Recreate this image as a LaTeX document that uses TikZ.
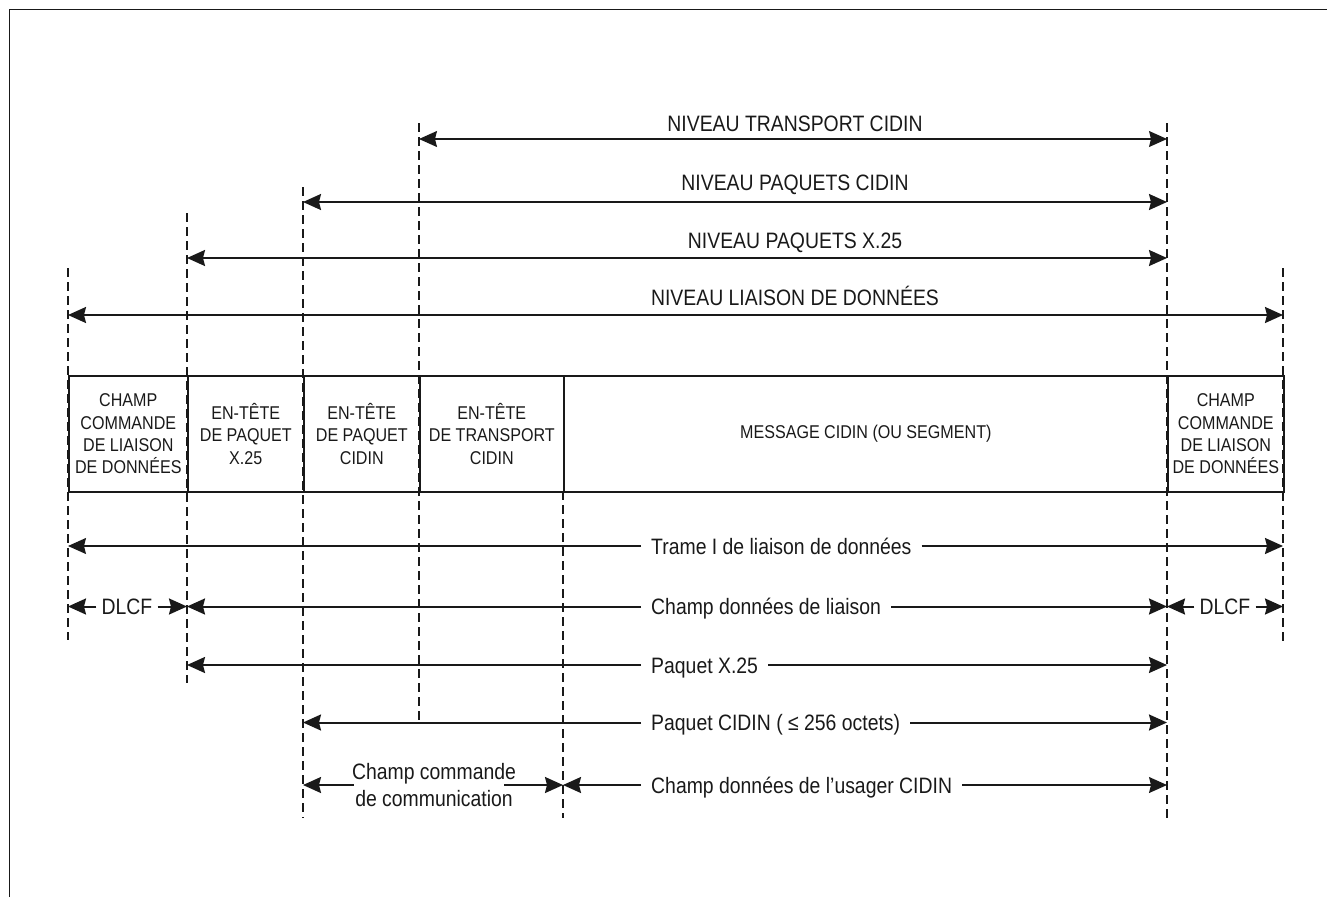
\documentclass[tikz,border=0pt]{standalone}
\usepackage{fontspec}
\setmainfont{Liberation Sans}[FakeStretch=0.87]
\usetikzlibrary{arrows.meta}
\definecolor{ink}{gray}{0.1}
\tikzset{
  Tri/.tip={Stealth[length=18pt,width=16pt,inset=2pt]},
  dashln/.style={line width=1.8pt,dash pattern=on 9pt off 5pt,color=ink},
  frameln/.style={line width=1.4pt,color=ink},
  cell/.style={draw,line width=1.6pt,color=ink,anchor=north west,inner sep=0pt,
    minimum height=116pt,align=center,font=\fontsize{18.5}{22.3}\selectfont},
  thk/.style={line width=2pt,color=ink},
  thn/.style={line width=1.2pt,color=ink},
  lbl/.style={font=\fontsize{22.3}{26.5}\selectfont,inner sep=0pt,color=ink},
  ilbl/.style={font=\fontsize{22.3}{26.5}\selectfont,inner ysep=0pt,inner xsep=10pt,color=ink,anchor=base west},
  dlbl/.style={font=\fontsize{22.3}{26.5}\selectfont,inner ysep=0pt,inner xsep=5pt,color=ink,anchor=base}
}
\begin{document}
\begin{tikzpicture}[x=1pt,y=-1pt]
\useasboundingbox (0,0) rectangle (1327,897);
% frame
\coordinate (f0) at (9.5,897);
\coordinate (f1) at (9.5,9.5);
\coordinate (f2) at (1327,9.5);
\draw[frameln] (f0) -- (f1) -- (f2);

% dashed verticals
\coordinate (d1t) at (68,268);   \coordinate (d1b) at (68,640);
\coordinate (d2t) at (187,213);  \coordinate (d2b) at (187,683);
\coordinate (d3t) at (303,187);  \coordinate (d3b) at (303,818);
\coordinate (d4t) at (419,123);  \coordinate (d4b) at (419,723);
\coordinate (d5t) at (563,491);  \coordinate (d5b) at (563,818);
\coordinate (d6t) at (1167,123); \coordinate (d6b) at (1167,818);
\coordinate (d7t) at (1283,268); \coordinate (d7b) at (1283,645);
\foreach \i in {1,...,7} {\draw[dashln] (d\i t) -- (d\i b);}

% cells
\node[cell,minimum width=119pt] (c1) at (68,375) {CHAMP\\COMMANDE\\DE LIAISON\\DE DONNÉES};
\node[cell,minimum width=116pt] (c2) at (187,375) {EN-TÊTE\\DE PAQUET\\X.25};
\node[cell,minimum width=116pt] (c3) at (303,375) {EN-TÊTE\\DE PAQUET\\CIDIN};
\node[cell,minimum width=144pt] (c4) at (419,375) {EN-TÊTE\\DE TRANSPORT\\CIDIN};
\node[cell,minimum width=604pt] (c5) at (563,375) {MESSAGE CIDIN (OU SEGMENT)};
\node[cell,minimum width=116pt] (c6) at (1167,375) {CHAMP\\COMMANDE\\DE LIAISON\\DE DONNÉES};

% top level arrows
\coordinate (a1l) at (419,139);  \coordinate (a1r) at (1167,139);
\coordinate (a2l) at (303,202);  \coordinate (a2r) at (1167,202);
\coordinate (a3l) at (187,258);  \coordinate (a3r) at (1167,258);
\coordinate (a4l) at (68,315);   \coordinate (a4r) at (1283,315);
\draw[thn,Tri-Tri] (a1l) -- (a1r);
\draw[thk,Tri-Tri] (a2l) -- (a2r);
\draw[thk,Tri-Tri] (a3l) -- (a3r);
\draw[thk,Tri-Tri] (a4l) -- (a4r);
\node[lbl,anchor=base] (t1) at (795,131.5) {NIVEAU TRANSPORT CIDIN};
\node[lbl,anchor=base] (t2) at (795,190.7) {NIVEAU PAQUETS CIDIN};
\node[lbl,anchor=base] (t3) at (795,248.3) {NIVEAU PAQUETS X.25};
\node[lbl,anchor=base] (t4) at (795,305) {NIVEAU LIAISON DE DONNÉES};

% lower arrows
\coordinate (b1l) at (68,546);   \coordinate (b1r) at (1283,546);
\node[ilbl] (l1) at (641,554) {Trame I de liaison de données};
\draw[thn,-Tri] (l1.west |- b1l) -- (b1l);
\draw[thk,-Tri] (l1.east |- b1r) -- (b1r);

\coordinate (b2a) at (68,606.5);  \coordinate (b2b) at (187,606.5);
\coordinate (b2c) at (1167,606.5); \coordinate (b2d) at (1283,606.5);
\node[ilbl] (l2) at (641,614.5) {Champ données de liaison};
\draw[thk,-Tri] (l2.west |- b2b) -- (b2b);
\draw[thk,-Tri] (l2.east |- b2c) -- (b2c);
\node[dlbl] (dl) at (127,614.5) {DLCF};
\draw[thk,-Tri] (dl.west |- b2a) -- (b2a);
\draw[thk,-Tri] (dl.east |- b2b) -- (b2b);
\node[dlbl] (dr) at (1225,614.5) {DLCF};
\draw[thk,-Tri] (dr.west |- b2c) -- (b2c);
\draw[thk,-Tri] (dr.east |- b2d) -- (b2d);

\coordinate (b3l) at (187,665);  \coordinate (b3r) at (1167,665);
\node[ilbl] (l3) at (641,673) {Paquet X.25};
\draw[thk,-Tri] (l3.west |- b3l) -- (b3l);
\draw[thk,-Tri] (l3.east |- b3r) -- (b3r);

\coordinate (b4l) at (303,722.5); \coordinate (b4r) at (1167,722.5);
\node[ilbl] (l4) at (641,730.5) {Paquet CIDIN ( ≤ 256 octets)};
\draw[thk,-Tri] (l4.west |- b4l) -- (b4l);
\draw[thk,-Tri] (l4.east |- b4r) -- (b4r);

\coordinate (b5l) at (303,785); \coordinate (b5m) at (563,785); \coordinate (b5r) at (1167,785);
\node[lbl,align=center] (cc) at (434,785) {Champ commande\\de communication};
\draw[thk,-Tri] ([xshift=2pt]cc.west |- b5l) -- (b5l);
\draw[thk,-Tri] ([xshift=-12pt]cc.east |- b5m) -- (b5m);
\node[ilbl] (l5) at (641,793) {Champ données de l’usager CIDIN};
\draw[thk,-Tri] (l5.west |- b5m) -- (b5m);
\draw[thn,-Tri] (l5.east |- b5r) -- (b5r);
\end{tikzpicture}
\end{document}
